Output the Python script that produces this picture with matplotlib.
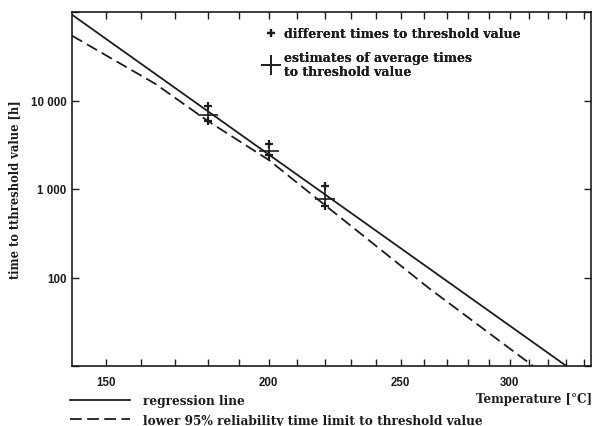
import numpy as np
import matplotlib
matplotlib.use("Agg")
import matplotlib.pyplot as plt
from matplotlib.ticker import FixedLocator, FixedFormatter, NullFormatter

# regression line (straight in log t vs 1/T)
T_reg = [140, 330]
t_reg = [100000, 10]

# lower 95% reliability limit
T_low = [141, 164, 180, 200, 220, 262, 312]
t_low = [54000, 15500, 5870, 2130, 660, 76, 10]

# single times to threshold value
T_ind = [180, 180, 200, 200, 220, 220]
t_ind = [8600, 5800, 3250, 2450, 1080, 650]

# averages
T_avg = [180, 200, 220]
t_avg = [6900, 2700, 770]

x_major = [150, 200, 250, 300]
x_minor = [160, 170, 180, 190, 210, 220, 230, 240, 260, 270, 280, 290, 310, 320, 330, 340]
y_ticks = [10, 100, 1000, 10000, 100000]
y_labels = ['', '100', '1 000', '10 000', '']

ink = '#1c1c1c'
serif = 'DejaVu Serif'
sans = 'Liberation Sans'


def fwd(T):
    T = np.asarray(T, dtype=float)
    with np.errstate(divide='ignore', invalid='ignore'):
        return -1.0 / (T + 273.15)


def inv(v):
    v = np.asarray(v, dtype=float)
    with np.errstate(divide='ignore', invalid='ignore'):
        return -1.0 / v - 273.15


fig = plt.figure(figsize=(5.93, 4.27), dpi=100)
ax = fig.add_axes([72 / 593, 60 / 427, 519 / 593, 354 / 427])

ax.set_xscale('function', functions=(fwd, inv))
ax.set_yscale('log')

reg, = ax.plot(T_reg, t_reg, color=ink, lw=1.3, label='regression line')
low, = ax.plot(T_low, t_low, color=ink, lw=1.3, ls=(0, (6.5, 3)),
               label='lower 95% reliability time limit to threshold value')
ind, = ax.plot(T_ind, t_ind, ls='none', marker='+', ms=6, mew=1.6, color=ink,
               label='different times to threshold value')
avg, = ax.plot(T_avg, t_avg, ls='none', marker='+', ms=15, mew=1.2, color=ink,
               label='estimates of average times\nto threshold value')

ax.set_xlim(141, 344)
ax.set_ylim(10, 100000)

ax.xaxis.set_major_locator(FixedLocator(x_major))
ax.xaxis.set_minor_locator(FixedLocator(x_minor))
ax.xaxis.set_minor_formatter(NullFormatter())
ax.yaxis.set_major_locator(FixedLocator(y_ticks))
ax.yaxis.set_major_formatter(FixedFormatter(y_labels))
ax.yaxis.set_minor_locator(FixedLocator([]))

ax.tick_params(which='both', direction='in', top=True, right=True,
               length=5, width=1, color=ink)
ax.tick_params(axis='x', which='major', pad=7)
ax.tick_params(axis='y', pad=4)
for lab in ax.get_xticklabels() + ax.get_yticklabels():
    lab.set_fontfamily(sans)
    lab.set_fontweight('bold')
    lab.set_fontsize(8.3)
    lab.set_color(ink)

for s in ax.spines.values():
    s.set_linewidth(1.2)
    s.set_color(ink)

ax.set_ylabel('time to tthreshold value [h]', family=serif, weight='bold',
              fontsize=8.3, color=ink)
ax.yaxis.set_label_coords(-51 / 519, 0.5)

fig.text(0.998, 1 - 400 / 427, 'Temperature [°C]', family=serif, weight='bold',
         fontsize=8.6, color=ink, ha='right', va='center')

leg1 = ax.legend(handles=[ind, avg], loc='upper left', bbox_to_anchor=(0.352, 0.975),
                 frameon=False, handlelength=1.6, handletextpad=0.25, labelspacing=0.9,
                 borderpad=0, prop={'family': serif, 'weight': 'bold', 'size': 9})
for t in leg1.get_texts():
    t.set_color(ink)
    t.set_linespacing(1.1)
ax.add_artist(leg1)

leg2 = fig.legend(handles=[reg, low], loc='upper left', bbox_to_anchor=(64 / 593, 1 - 389 / 427),
                  frameon=False, handlelength=5.0, handletextpad=1.0, labelspacing=0.55,
                  borderpad=0, prop={'family': serif, 'weight': 'bold', 'size': 8.7})
for t in leg2.get_texts():
    t.set_color(ink)

fig.savefig('out.png', dpi=100)
